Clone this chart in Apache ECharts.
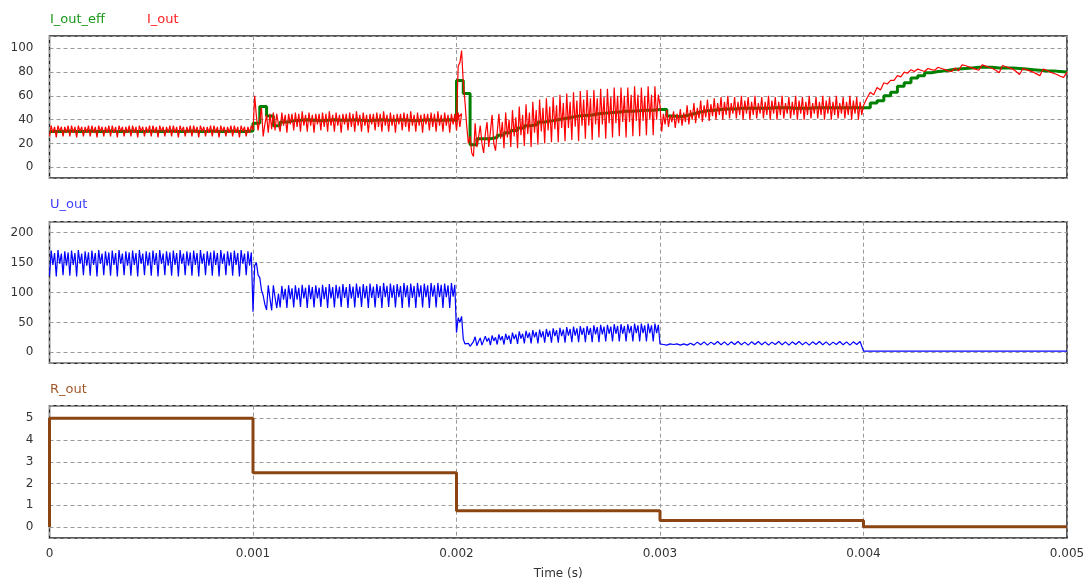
<!DOCTYPE html>
<html>
<head>
<meta charset="utf-8">
<script src="https://cdn.jsdelivr.net/npm/echarts@6/dist/echarts.min.js"></script>
<style>
html,body{margin:0;padding:0;background:#fff;}
#c{width:1089px;height:581px;}
</style>
</head>
<body>
<div id="c"></div>
<script>
// ---- data ----
const tEnd = 0.005;
const cycles = 150;                 // switching periods shown
const T = tEnd / cycles;            // switching period
const segStart = [0, 0.001, 0.002, 0.003, 0.004];

// I_out_eff : one value per switching period
const iOutEff = [
 30,30,30.5,30,30,30.5,30,30,30.5,30, 30,30.5,30,30,30.5,30,30,30.5,30,30, 30.5,30,30,30.5,30,30,30.5,30,30,30.5,
 37,51,43,35,38,39, 39.5,40,39.5,39,39.5,40,39.5,39.5,40,39.5,39,39.5, 40,39.5,39.5,40,39.5,39,39.5,40,39.5,39.5,40,39.5,
 73,62,19,24,24,25,27,29,31,33,35,36,38,39,40,41,42,43,43.5,44,45,45.5,46,46.5,47,47,47.5,48,48,48.5,
 48.5,43,42.5,43.5,45,46.5,47.5,48,48.5,49, 49,49.5,49.5,49.5,49.5,49.5,50,50,50,49.5, 49.5,49.5,50,50,50,50,50,50,50,50,
 50,54,56,60,63,68,71,75,77,79.5, 80.5,81,82,82.5,83,83.5,84,84,84,83.5, 83.5,83.5,83,82.5,82,81.5,81,81,80.5,80
];

// I_out : 4 samples per period in 0..0.004 s, 2 per period after
const iOutA = [
 26,35,29,34, 25,35,30,34, 26,34,29,35, 26,35,29,34, 25,35,30,34, 26,34,29,35, 26,35,29,34, 25,35,30,34, 26,34,29,35, 26,35,29,34,
 25,35,30,34, 26,34,29,35, 26,35,29,34, 25,35,30,34, 26,34,29,35, 26,35,29,34, 25,35,30,34, 26,34,29,35, 26,35,29,34, 25,35,30,34,
 26,34,29,35, 26,35,29,34, 25,35,30,34, 26,34,29,35, 26,35,29,34, 25,35,30,34, 26,34,29,35, 26,35,29,34, 25,35,30,34, 26,34,29,35
];
const iOutB = [
 31,60,43,31, 40,50,26,36, 44,29,45,32, 46,31,45,36,
 30,46,35,44, 29,45,36,45, 31,46,34,45, 30,47,35,44, 30,46,35,44, 29,45,36,45, 31,46,34,45, 30,47,35,44, 30,46,35,44,
 29,45,36,45, 31,46,34,45, 30,47,35,44, 30,46,35,44, 29,45,36,45, 31,46,34,45, 30,47,35,44, 30,46,35,44, 29,45,36,45,
 31,46,34,45, 30,47,35,44, 30,46,35,44, 29,45,36,45, 31,46,34,45, 30,47,35,44, 30,46,35,44, 29,45,36,45, 31,46,34,45
];
const iOutC = [
 40,85,88,98, 71,55,35,20, 26,12,9,37, 17,25,35,20, 12,28,38,17, 30,44,20,14,
 15,45,24,38, 16,46,25,40, 17,48,26,42, 16,51,27,44, 18,53,28,46, 17,55,29,48, 19,57,30,50, 20,58,31,51,
 21,59,32,52, 21,61,33,54, 22,62,33,55, 23,63,34,56, 22,64,35,57, 24,65,35,58, 23,65,36,58, 25,66,36,59,
 24,66,37,59, 25,67,37,60, 26,67,38,60, 25,67,38,61, 26,68,39,61, 26,67,39,60, 27,68,40,61, 27,68,40,61
];
const iOutD = [
 52,30,45,36, 48,34,44,38, 47,33,45,37, 49,35,46,38, 52,36,48,40, 54,37,50,41, 56,38,52,42, 57,39,53,43, 58,40,54,44,
 59,40,55,44, 60,41,54,45, 59,41,55,44, 60,40,56,45, 59,40,55,44, 60,41,54,45, 59,41,55,44, 60,40,56,45,
 59,40,55,44, 60,41,54,45, 59,41,55,44, 60,40,56,45, 59,40,55,44, 60,41,54,45, 59,41,55,44, 60,40,56,45,
 59,40,55,44, 60,41,54,45, 59,41,55,44, 60,40,56,45, 59,40,55,44
];
const iOutE = [
 52,58,63,61,67,65,71,70,73,73, 77,76,80,79,82,80.5,82.5,81.5,80.5,83,
 82,81.5,84,83,82,81,80.5,83.5,81,86, 85.5,84.5,83.5,82.5,81.5,86,85,84,83,81.5,
 79.5,85.5,84.5,83.5,82.5,80.5,78,83,82,81, 80,78.5,77,82.5,81.5,80,79,78,76.5,75.5,
 80
];

// U_out
const uOutA = [
 128,170,146,166, 127,171,148,165, 129,169,145,167, 128,170,146,166, 127,171,148,165, 129,169,145,167,
 128,170,146,166, 127,171,148,165, 129,169,145,167, 128,170,146,166, 127,171,148,165, 129,169,145,167,
 128,170,146,166, 127,171,148,165, 129,169,145,167, 128,170,146,166, 127,171,148,165, 129,169,145,167,
 128,170,146,166, 127,171,148,165, 129,169,145,167, 128,170,146,166, 127,171,148,165, 129,169,145,167,
 128,170,146,166, 127,171,148,165, 129,169,145,167, 128,170,146,166, 127,171,148,165, 129,169,145,167
];
const uOutB = [
 68,145,150,129, 125,104,95,80, 71,112,90,70, 112,92,74,98,
 75,111,88,106, 74,112,89,107, 75,112,88,108, 76,113,90,108, 74,113,89,109, 75,112,90,108, 76,113,89,109,
 74,114,90,109, 75,113,90,110, 76,114,91,109, 74,114,90,110, 75,115,91,110, 76,114,90,111, 74,115,91,110,
 75,114,91,111, 74,116,92,111, 76,115,91,112, 75,114,92,111, 74,116,92,112, 75,115,91,111, 74,116,92,112,
 75,115,92,112, 74,116,93,112, 75,116,92,113, 74,115,92,112, 74,116,93,113
];
const uOutC = [
 33,58,50,60, 22,14,12,15, 10,8,18,26, 11,18,24,12,
 12,27,18,24, 12,28,19,25, 13,30,20,27, 13,31,21,28, 14,33,22,30, 14,35,23,31, 15,36,24,33,
 15,37,25,34, 15,38,25,35, 16,39,26,36, 16,40,27,37, 16,41,27,38, 16,42,28,39, 17,43,28,40,
 17,44,29,41, 17,44,29,41, 17,45,30,42, 17,46,30,43, 18,46,31,43, 18,47,31,44, 18,47,31,44,
 18,47,32,44, 18,48,32,45, 18,48,32,45, 18,48,32,45, 18,48,32,46
];
const uOutD = [
 14,13, 12,14, 13,14, 12,14, 12,15, 12,17,
 12.5,17.5, 12,17, 13,18, 12.5,17.5, 12,17.5, 13,18, 12.5,17, 12,17.5, 13,18, 12.5,17.5, 12,17, 13,18,
 12.5,17.5, 12,17.5, 13,18, 12.5,17, 12,17.5, 13,18, 12.5,17.5, 12,17, 13,18, 12.5,17.5, 12,17.5, 13,18
];
const uOutE = [2, 2];   // flat from 0.004 s to 0.005 s

// R_out : piecewise constant levels
const rBreaks = [0, 0.001, 0.002, 0.003, 0.004];
const rLevels = [5, 2.5, 0.75, 0.3, 0.02];

// ---- build series data on the time grid ----
function seg(arr, t0, dt) { return arr.map((v, i) => [t0 + i * dt, v]); }
const effData = iOutEff.map((v, k) => [k * T, v]);
effData.push([tEnd, iOutEff[iOutEff.length - 1]]);
const iData = [].concat(
  seg(iOutA, segStart[0], T / 4), seg(iOutB, segStart[1], T / 4), seg(iOutC, segStart[2], T / 4),
  seg(iOutD, segStart[3], T / 4), seg(iOutE, segStart[4], T / 2));
const uData = [].concat(
  seg(uOutA, segStart[0], T / 4), seg(uOutB, segStart[1], T / 4), seg(uOutC, segStart[2], T / 4),
  seg(uOutD, segStart[3], T / 2), seg(uOutE, segStart[4], tEnd - segStart[4]));
const rData = [[0, 0]];
rBreaks.forEach((t, i) => rData.push([t, rLevels[i]]));
rData.push([tEnd, rLevels[rLevels.length - 1]]);

const FONT = '"DejaVu Sans", Verdana, sans-serif';
const dash = {type: [4, 3], color: '#9a9a9a', width: 1};

function gridCfg(top, h) {
  return {left: 49.5, right: 22, top: top, height: h, show: true,
          borderColor: '#222', borderWidth: 1.5, backgroundColor: '#fff'};
}
function xAx(i, showLabels) {
  return {
    type: 'value', gridIndex: i, min: 0, max: tEnd, interval: 0.001,
    axisLine: {show: false}, axisTick: {show: false},
    splitLine: {show: true, lineStyle: dash},
    axisLabel: {show: showLabels, margin: 10, color: '#333', fontFamily: FONT, fontSize: 12,
                formatter: v => (v === 0 ? '0' : v.toFixed(3))},
    name: showLabels ? 'Time (s)' : '', nameLocation: 'middle', nameGap: 30,
    nameTextStyle: {color: '#333', fontFamily: FONT, fontSize: 12}
  };
}
function yAx(i, min, max, step) {
  return {
    type: 'value', gridIndex: i, min: min, max: max, splitNumber: Math.round((max - min) / step),
    axisLine: {show: false}, axisTick: {show: false},
    splitLine: {show: true, lineStyle: dash},
    axisLabel: {margin: 16, color: '#333', fontFamily: FONT, fontSize: 12,
      formatter: v => (Math.abs(v - Math.round(v / step) * step) < 1e-6 ? String(Math.round(v / step) * step) : '')}
  };
}

const chart = echarts.init(document.getElementById('c'), null, {renderer: 'canvas'});
chart.setOption({
  animation: false,
  backgroundColor: '#fff',
  grid: [gridCfg(36, 142), gridCfg(221.7, 141.6), gridCfg(405.7, 133)],
  xAxis: [xAx(0, false), xAx(1, false), xAx(2, true)],
  yAxis: [yAx(0, -9, 110.3, 20), yAx(1, -18.4, 218.4, 50), yAx(2, -0.5, 5.58, 1)],
  graphic: [
    {type: 'text', x: 50, y: 20, style: {text: 'I_out_eff', fill: '#1a991a', font: '13px ' + FONT, verticalAlign: 'middle'}},
    {type: 'text', x: 147, y: 20, style: {text: 'I_out', fill: '#ff2020', font: '13px ' + FONT, verticalAlign: 'middle'}},
    {type: 'text', x: 50, y: 205, style: {text: 'U_out', fill: '#4040ff', font: '13px ' + FONT, verticalAlign: 'middle'}},
    {type: 'text', x: 50, y: 390, style: {text: 'R_out', fill: '#a0582a', font: '13px ' + FONT, verticalAlign: 'middle'}}
  ],
  series: [
    {type: 'line', name: 'I_out_eff', xAxisIndex: 0, yAxisIndex: 0, data: effData, step: 'end',
     showSymbol: false, lineStyle: {color: '#008000', width: 3}, z: 2},
    {type: 'line', name: 'I_out', xAxisIndex: 0, yAxisIndex: 0, data: iData,
     showSymbol: false, lineStyle: {color: '#ff0000', width: 1.2}, z: 3},
    {type: 'line', name: 'U_out', xAxisIndex: 1, yAxisIndex: 1, data: uData,
     showSymbol: false, lineStyle: {color: '#0000ff', width: 1.2}},
    {type: 'line', name: 'R_out', xAxisIndex: 2, yAxisIndex: 2, data: rData, step: 'end',
     showSymbol: false, lineStyle: {color: '#8b4513', width: 3}}
  ]
});
</script>
</body>
</html>
